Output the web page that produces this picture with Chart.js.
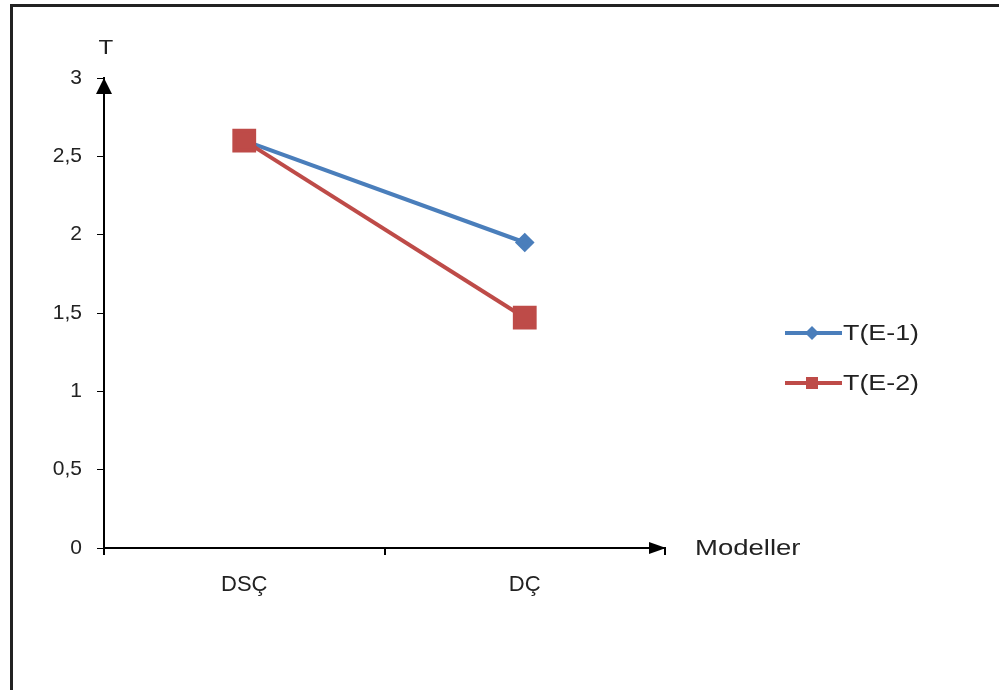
<!DOCTYPE html>
<html>
<head>
<meta charset="utf-8">
<script src="https://cdn.jsdelivr.net/npm/chart.js@4.4.1/dist/chart.umd.min.js"></script>
<style>
  html, body { margin: 0; padding: 0; background: #fff; }
  #wrap { width: 999px; height: 690px; position: relative; }
</style>
</head>
<body>
<div id="wrap"><canvas id="chart"></canvas></div>
<script>
// Datos del gráfico
const categories = ['DSÇ', 'DÇ'];
const seriesNames = ['T(E-1)', 'T(E-2)'];
const valuesE1 = [2.6, 1.95];
const valuesE2 = [2.6, 1.47];
const yTicks = [0, 0.5, 1, 1.5, 2, 2.5, 3];
const yAxisTitle = 'T';
const xAxisTitle = 'Modeller';

const FONT = '"Liberation Sans", Arial, sans-serif';
const blue = '#4a7ebb';
const red = '#be4b48';

// texto algo más ancho, como en la imagen original
function wideText(ctx, text, x, y, sx) {
  ctx.save();
  ctx.translate(x, y);
  ctx.scale(sx, 1);
  ctx.fillText(text, 0, 0);
  ctx.restore();
}

// Marco, flechas, títulos de ejes y leyenda
const extras = {
  id: 'extras',
  afterDraw(chart) {
    const ctx = chart.ctx;
    const a = chart.chartArea;
    ctx.save();

    // marco exterior
    ctx.strokeStyle = '#222';
    ctx.lineWidth = 3;
    ctx.strokeRect(11.5, 5.5, 1100, 800);

    // flecha eje Y
    ctx.fillStyle = '#000';
    ctx.beginPath();
    ctx.moveTo(a.left, a.top);
    ctx.lineTo(a.left - 8, a.top + 16);
    ctx.lineTo(a.left + 8, a.top + 16);
    ctx.closePath();
    ctx.fill();

    // flecha eje X
    ctx.beginPath();
    ctx.moveTo(a.right + 1, a.bottom);
    ctx.lineTo(a.right - 16, a.bottom - 6);
    ctx.lineTo(a.right - 16, a.bottom + 6);
    ctx.closePath();
    ctx.fill();

    // títulos
    ctx.fillStyle = '#222';
    ctx.font = '21px ' + FONT;
    ctx.textAlign = 'center';
    ctx.textBaseline = 'middle';
    wideText(ctx, yAxisTitle, a.left + 2, 48, 1.15);
    ctx.textAlign = 'left';
    ctx.font = '22px ' + FONT;
    wideText(ctx, xAxisTitle, 695, a.bottom + 1, 1.25);

    // leyenda
    const rows = [333, 383];
    chart.data.datasets.forEach((ds, i) => {
      const y = rows[i];
      ctx.strokeStyle = ds.borderColor;
      ctx.lineWidth = 4;
      ctx.beginPath();
      ctx.moveTo(785, y);
      ctx.lineTo(842, y);
      ctx.stroke();
      ctx.fillStyle = ds.pointBackgroundColor;
      ctx.beginPath();
      if (ds.pointStyle === 'rectRot') {
        ctx.moveTo(812, y - 7);
        ctx.lineTo(819, y);
        ctx.lineTo(812, y + 7);
        ctx.lineTo(805, y);
        ctx.closePath();
      } else {
        ctx.rect(806, y - 6, 12, 12);
      }
      ctx.fill();
      ctx.fillStyle = '#222';
      ctx.font = '22px ' + FONT;
      ctx.textAlign = 'left';
      wideText(ctx, ds.label, 843, y + 1, 1.22);
    });
    ctx.restore();
  }
};

const ctx = document.getElementById('chart').getContext('2d');
new Chart(ctx, {
  type: 'line',
  data: {
    labels: categories,
    datasets: [
      {
        label: seriesNames[0],
        data: valuesE1,
        borderColor: blue,
        backgroundColor: blue,
        pointBackgroundColor: blue,
        pointBorderColor: blue,
        pointStyle: 'rectRot',
        pointRadius: 7,
        borderWidth: 4,
        tension: 0,
        order: 1
      },
      {
        label: seriesNames[1],
        data: valuesE2,
        borderColor: red,
        backgroundColor: red,
        pointBackgroundColor: red,
        pointBorderColor: red,
        pointStyle: 'rect',
        pointRadius: 14,
        borderWidth: 4,
        tension: 0,
        order: 0
      }
    ]
  },
  options: {
    responsive: true,
    maintainAspectRatio: false,
    animation: false,
    layout: { padding: { left: 34, top: 78, right: 334, bottom: 82 } },
    plugins: { legend: { display: false }, tooltip: { enabled: false } },
    scales: {
      x: {
        offset: true,
        afterFit(s) { s.height = 60; },
        grid: { offset: true, drawOnChartArea: false, drawTicks: true, tickLength: 7, color: '#000', lineWidth: 2 },
        border: { color: '#000', width: 2 },
        ticks: { color: '#222', font: { family: FONT, size: 22 }, padding: 17 }
      },
      y: {
        min: 0,
        max: 3,
        afterFit(s) { s.width = 70; },
        afterBuildTicks(s) { s.ticks = yTicks.map(v => ({ value: v })); },
        grid: { drawOnChartArea: false, drawTicks: true, tickLength: 7, color: '#000', lineWidth: 1 },
        border: { color: '#000', width: 2 },
        ticks: {
          color: '#222',
          font: { family: FONT, size: 21 },
          padding: 15,
          callback: v => String(v).replace('.', ',')
        }
      }
    }
  },
  plugins: [extras]
});
</script>
</body>
</html>
